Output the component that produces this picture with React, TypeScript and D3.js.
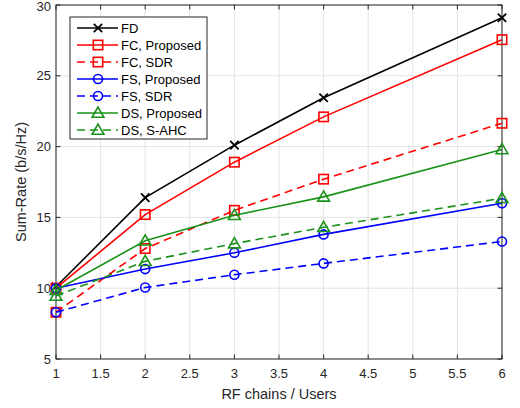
import React from "react";
import * as d3 from "d3";

const xValues = [1, 2, 3, 4, 6];
const fd = [10.1, 16.4, 20.1, 23.45, 29.1];
const fcProposed = [10.0, 15.2, 18.9, 22.1, 27.55];
const fcSdr = [8.3, 12.8, 15.5, 17.7, 21.65];
const fsProposed = [10.0, 11.35, 12.5, 13.8, 16.0];
const fsSdr = [8.3, 10.05, 10.95, 11.75, 13.3];
const dsProposed = [9.85, 13.35, 15.15, 16.45, 19.8];
const dsSahc = [9.45, 11.9, 13.15, 14.3, 16.35];

const xTicks = [1, 1.5, 2, 2.5, 3, 3.5, 4, 4.5, 5, 5.5, 6];
const yTicks = [5, 10, 15, 20, 25, 30];

const GREEN = "#1a921a";

type Series = { name: string; values: number[]; color: string; dash: boolean; marker: string };
const series: Series[] = [
  { name: "FD", values: fd, color: "#000000", dash: false, marker: "x" },
  { name: "FC, Proposed", values: fcProposed, color: "#ff0000", dash: false, marker: "square" },
  { name: "FC, SDR", values: fcSdr, color: "#ff0000", dash: true, marker: "square" },
  { name: "FS, Proposed", values: fsProposed, color: "#0000ff", dash: false, marker: "circle" },
  { name: "FS, SDR", values: fsSdr, color: "#0000ff", dash: true, marker: "circle" },
  { name: "DS, Proposed", values: dsProposed, color: GREEN, dash: false, marker: "triangle" },
  { name: "DS, S-AHC", values: dsSahc, color: GREEN, dash: true, marker: "triangle" },
];

const L = 56, R = 502, T = 5, B = 359;

function Marker({ type, x, y, color }: { type: string; x: number; y: number; color: string }) {
  const sw = 1.6;
  if (type === "x") {
    const s = 4.2;
    return (
      <g stroke={color} strokeWidth={1.8}>
        <line x1={x - s} y1={y - s} x2={x + s} y2={y + s} />
        <line x1={x - s} y1={y + s} x2={x + s} y2={y - s} />
      </g>
    );
  }
  if (type === "square") {
    const s = 4.7;
    return <rect x={x - s} y={y - s} width={2 * s} height={2 * s} fill="none" stroke={color} strokeWidth={sw} />;
  }
  if (type === "circle") {
    return <circle cx={x} cy={y} r={4.5} fill="none" stroke={color} strokeWidth={sw} />;
  }
  const s = 5.9;
  const p = `M${x},${y - s} L${x + s},${y + s * 0.72} L${x - s},${y + s * 0.72} Z`;
  return <path d={p} fill="none" stroke={color} strokeWidth={sw} />;
}

export default function App() {
  const x = d3.scaleLinear().domain([1, 6]).range([L, R]);
  const y = d3.scaleLinear().domain([5, 30]).range([B, T]);
  const line = d3
    .line<number>()
    .x((_, i) => x(xValues[i]))
    .y((v) => y(v));
  const axisColor = "#262626";
  const font = "'Liberation Sans', Arial, Helvetica, sans-serif";

  const legX = 70, legY = 17, legW = 137, legH = 122;
  const rowH = 17;

  return (
    <svg width={520} height={408} style={{ position: "absolute", left: 0, top: 0 }} fontFamily={font}>
      <rect x={0} y={0} width={520} height={408} fill="#fff" />
      <rect x={L} y={T} width={R - L} height={B - T} fill="#fff" />
      {/* grid */}
      <g stroke="#e3e3e3" strokeWidth={1}>
        {xTicks.map((t) => (
          <line key={"gx" + t} x1={x(t)} x2={x(t)} y1={T} y2={B} />
        ))}
        {yTicks.map((t) => (
          <line key={"gy" + t} x1={L} x2={R} y1={y(t)} y2={y(t)} />
        ))}
      </g>
      {/* box */}
      <rect x={L} y={T} width={R - L} height={B - T} fill="none" stroke={axisColor} strokeWidth={1} />
      {/* ticks */}
      <g stroke={axisColor} strokeWidth={1}>
        {xTicks.map((t) => (
          <g key={"tx" + t}>
            <line x1={x(t)} x2={x(t)} y1={B} y2={B - 4.5} />
            <line x1={x(t)} x2={x(t)} y1={T} y2={T + 4.5} />
          </g>
        ))}
        {yTicks.map((t) => (
          <g key={"ty" + t}>
            <line x1={L} x2={L + 4.5} y1={y(t)} y2={y(t)} />
            <line x1={R} x2={R - 4.5} y1={y(t)} y2={y(t)} />
          </g>
        ))}
      </g>
      <g fill={axisColor} fontSize={13}>
        {xTicks.map((t) => (
          <text key={"lx" + t} x={x(t)} y={B + 19} textAnchor="middle">
            {t}
          </text>
        ))}
        {yTicks.map((t) => (
          <text key={"ly" + t} x={L - 5} y={Math.max(y(t) + 4.5, 11)} textAnchor="end">
            {t}
          </text>
        ))}
      </g>
      <text x={(L + R) / 2} y={399} textAnchor="middle" fontSize={14.5} fill={axisColor}>
        RF chains / Users
      </text>
      <text
        transform={`translate(26, ${(T + B) / 2}) rotate(-90)`}
        textAnchor="middle"
        fontSize={14.5}
        fill={axisColor}
      >
        Sum-Rate (b/s/Hz)
      </text>
      {/* series */}
      {series.map((s) => (
        <g key={s.name}>
          <path
            d={line(s.values) || ""}
            fill="none"
            stroke={s.color}
            strokeWidth={1.6}
            strokeDasharray={s.dash ? "8,5" : undefined}
          />
          {s.values.map((v, i) => (
            <Marker key={i} type={s.marker} x={x(xValues[i])} y={y(v)} color={s.color} />
          ))}
        </g>
      ))}
      {/* legend */}
      <rect x={legX} y={legY} width={legW} height={legH} fill="#fff" stroke={axisColor} strokeWidth={1} />
      {series.map((s, i) => {
        const cy = legY + 11 + i * rowH;
        return (
          <g key={"leg" + s.name}>
            <line
              x1={legX + 7}
              x2={legX + 48}
              y1={cy}
              y2={cy}
              stroke={s.color}
              strokeWidth={1.6}
              strokeDasharray={s.dash ? "8,5" : undefined}
            />
            <Marker type={s.marker} x={legX + 28} y={cy} color={s.color} />
            <text x={legX + 51} y={cy + 4.5} fontSize={13} fill="#000">
              {s.name}
            </text>
          </g>
        );
      })}
    </svg>
  );
}
